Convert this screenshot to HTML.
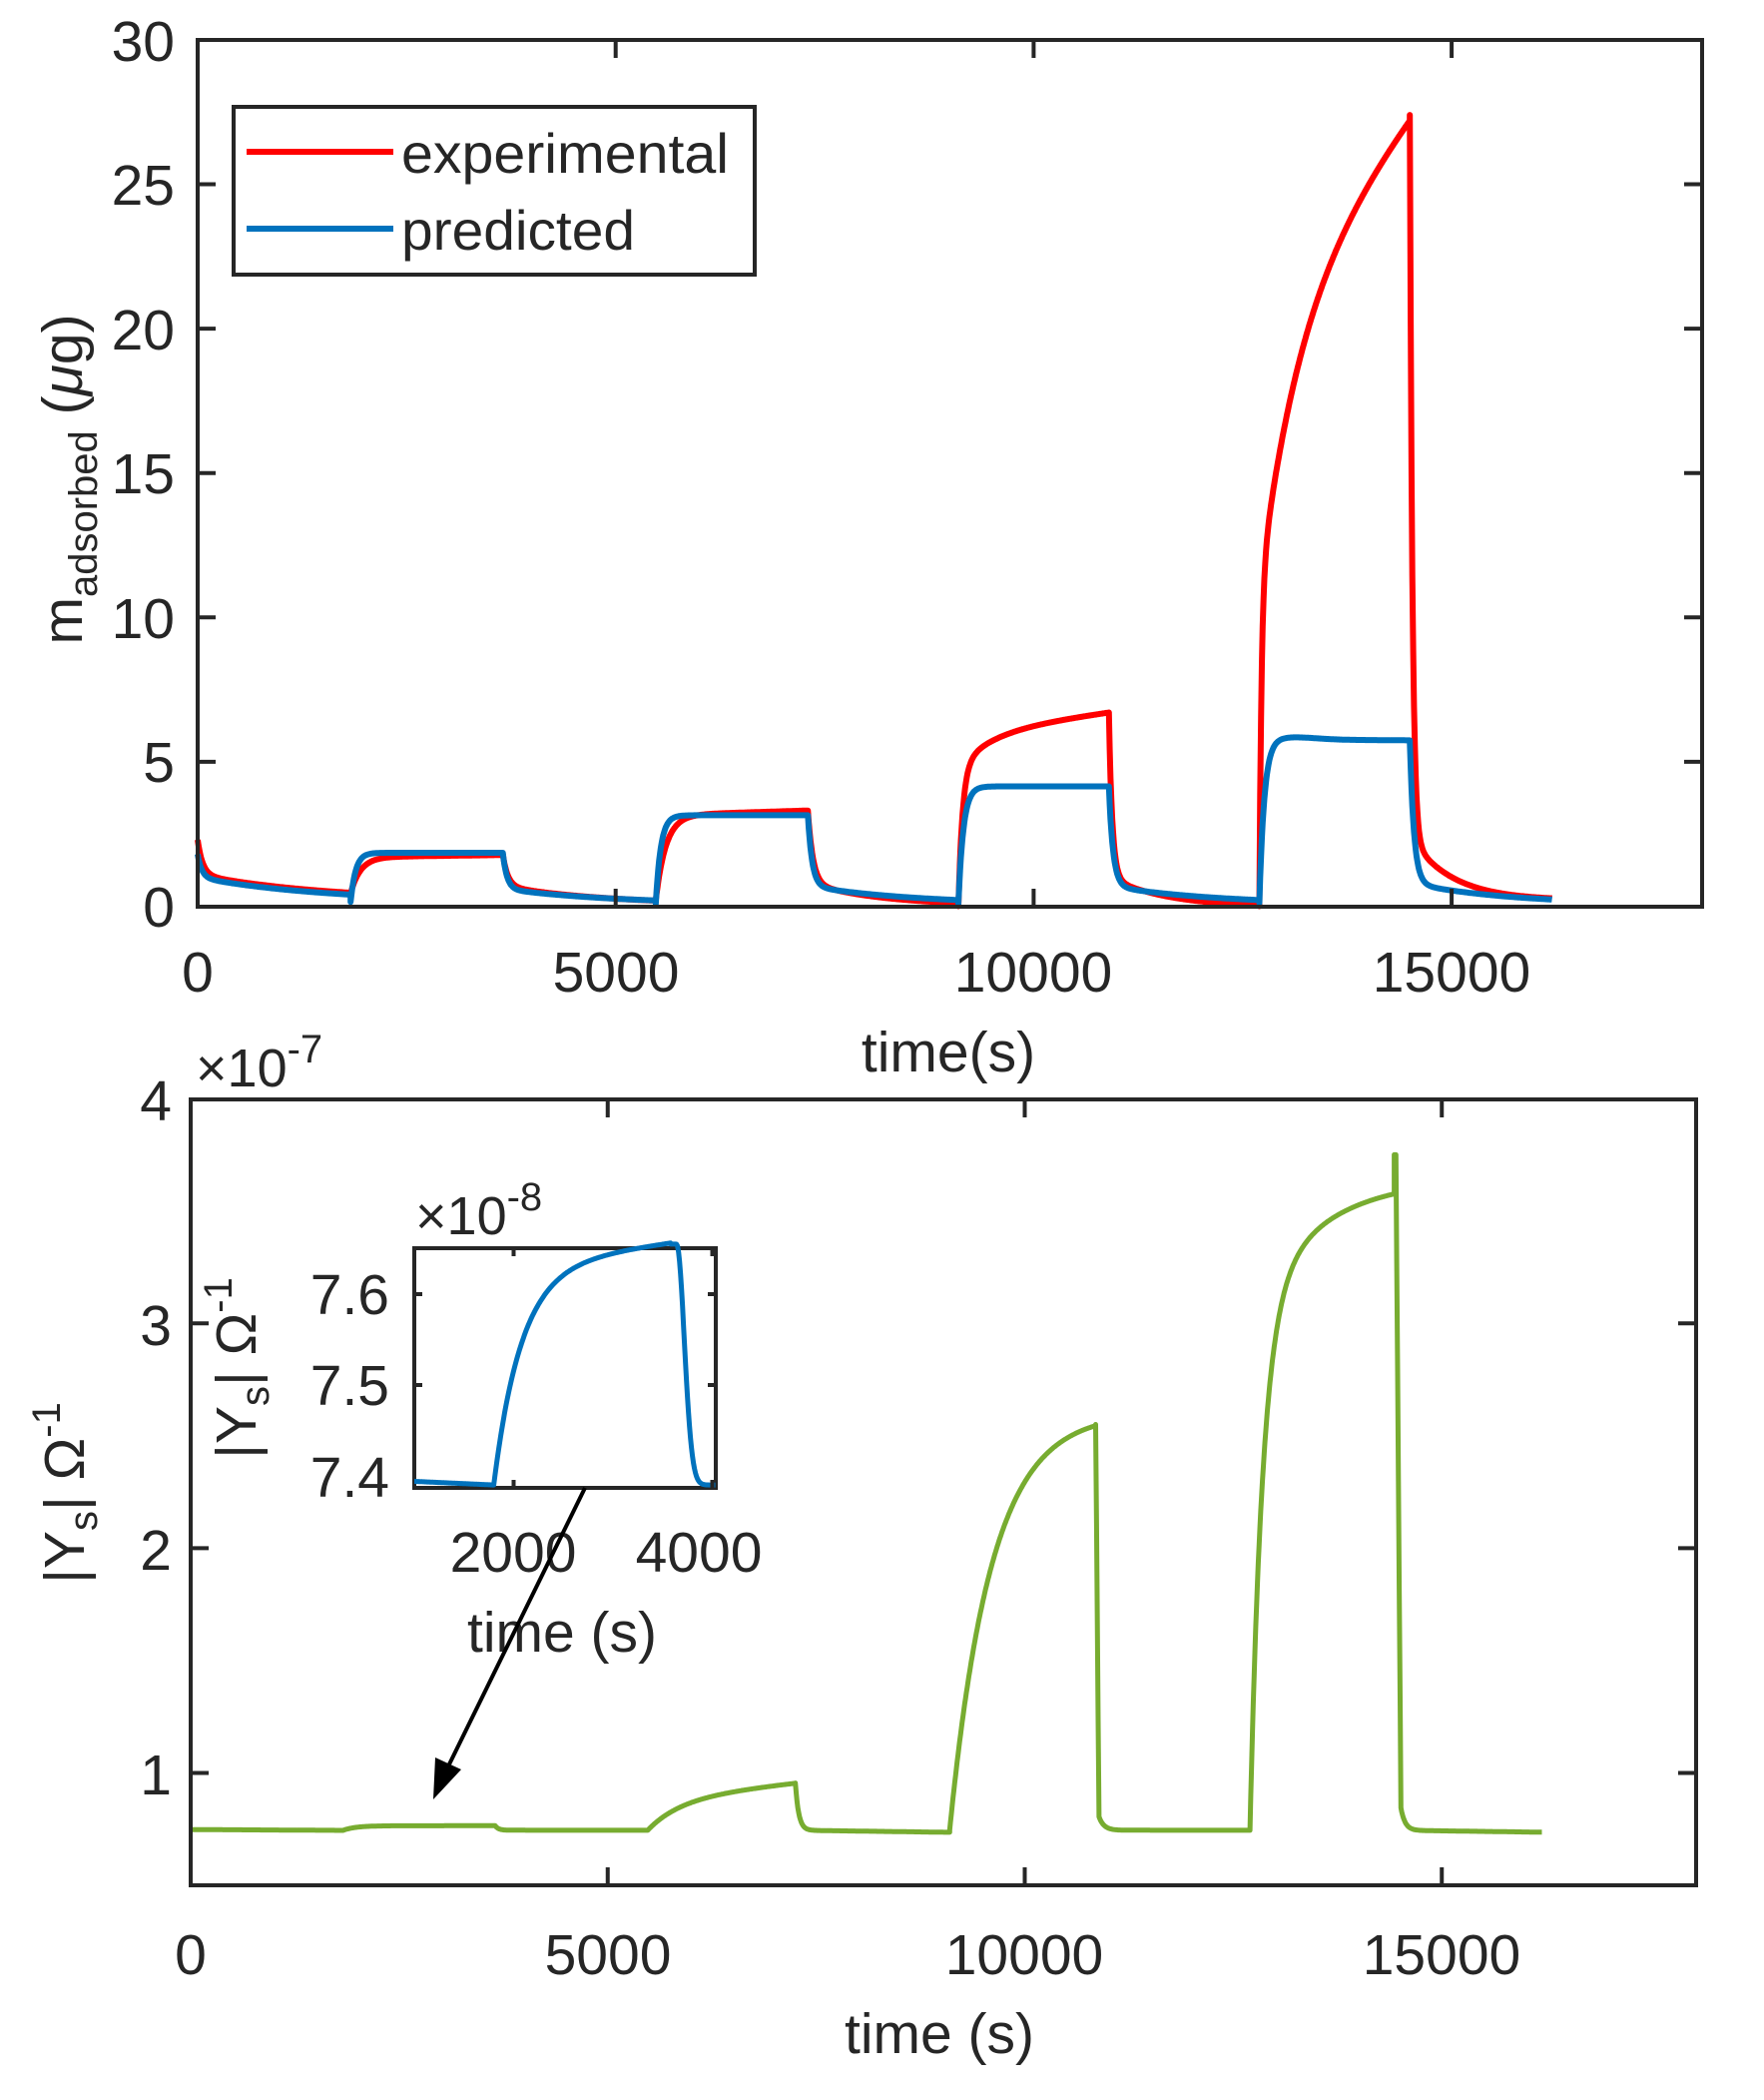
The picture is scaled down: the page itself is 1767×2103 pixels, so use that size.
<!DOCTYPE html>
<html><head><meta charset="utf-8"><style>
html,body{margin:0;padding:0;background:#fff}
svg{display:block}
text{font-family:"Liberation Sans",Arial,sans-serif;fill:#262626}
</style></head><body>
<svg id="s" width="1767" height="2103" viewBox="0 0 1767 2103" xmlns="http://www.w3.org/2000/svg">
<rect width="1767" height="2103" fill="#fff"/>
<g id="plots"></g>
<rect x="198" y="40" width="1507" height="868" fill="none" stroke="#262626" stroke-width="4"/>
<g stroke="#262626" stroke-width="4" id="ticks"></g>
<g font-size="57" text-anchor="end">
<text x="175" y="928">0</text><text x="175" y="783">5</text><text x="175" y="639">10</text>
<text x="175" y="494">15</text><text x="175" y="350">20</text><text x="175" y="205">25</text><text x="175" y="61">30</text>
</g>
<g font-size="57" text-anchor="middle">
<text x="198" y="993">0</text><text x="617" y="993">5000</text><text x="1035" y="993">10000</text><text x="1454" y="993">15000</text>
<text x="950" y="1073">time(s)</text>
</g>
<text transform="translate(82,480) rotate(-90)" font-size="57" text-anchor="middle">m<tspan font-size="40" dy="15">adsorbed</tspan><tspan dy="-15"> (</tspan><tspan font-style="italic">μ</tspan>g)</text>
<rect x="234" y="107" width="522" height="168" fill="#fff" stroke="#262626" stroke-width="4"/>
<line x1="247" y1="152" x2="394" y2="152" stroke="#ff0000" stroke-width="6"/>
<line x1="247" y1="229" x2="394" y2="229" stroke="#0072bd" stroke-width="6"/>
<text x="402" y="173" font-size="56" fill="#000" textLength="328" lengthAdjust="spacingAndGlyphs">experimental</text>
<text x="402" y="250" font-size="56" fill="#000" textLength="234" lengthAdjust="spacingAndGlyphs">predicted</text>
<rect x="191" y="1101" width="1508" height="787" fill="none" stroke="#262626" stroke-width="4"/>
<g font-size="57" text-anchor="end">
<text x="172" y="1122">4</text><text x="172" y="1347">3</text><text x="172" y="1572">2</text><text x="172" y="1797">1</text>
</g>
<text x="196" y="1088" font-size="54">×10<tspan font-size="40" dy="-24">-7</tspan></text>
<g font-size="57" text-anchor="middle">
<text x="191" y="1977">0</text><text x="609" y="1977">5000</text><text x="1026" y="1977">10000</text><text x="1444" y="1977">15000</text>
<text x="941" y="2056">time (s)</text>
</g>
<text transform="translate(84,1495) rotate(-90)" font-size="57" text-anchor="middle">|Y<tspan font-size="40" dy="13">s</tspan><tspan dy="-13">| Ω</tspan><tspan font-size="40" dy="-24">-1</tspan></text>
<rect x="415" y="1250" width="302" height="240" fill="#fff" stroke="#262626" stroke-width="4"/>
<g id="inset"></g>
<g font-size="57" text-anchor="end">
<text x="390" y="1316">7.6</text><text x="390" y="1407">7.5</text><text x="390" y="1499">7.4</text>
</g>
<g font-size="57" text-anchor="middle">
<text x="514" y="1574">2000</text><text x="700" y="1574">4000</text>
<text x="563" y="1654">time (s)</text>
</g>
<text x="416" y="1236" font-size="54">×10<tspan font-size="40" dy="-24">-8</tspan></text>
<text transform="translate(256,1370) rotate(-90)" font-size="57" text-anchor="middle">|Y<tspan font-size="40" dy="13">s</tspan><tspan dy="-13">| Ω</tspan><tspan font-size="40" dy="-24">-1</tspan></text>
<line x1="586" y1="1490" x2="446" y2="1775" stroke="#000" stroke-width="4"/>
<polygon points="434,1802 436,1760 462,1772" fill="#000"/>
</svg>
<script>
(function(){
var NS="http://www.w3.org/2000/svg";
function el(p,n,a){var e=document.createElementNS(NS,n);for(var k in a)e.setAttribute(k,a[k]);p.appendChild(e);return e;}
var plots=document.getElementById('plots'),ticks=document.getElementById('ticks');
[0,5000,10000,15000].forEach(function(t){var x=198+t*0.08374;el(ticks,'line',{x1:x,y1:908,x2:x,y2:890});el(ticks,'line',{x1:x,y1:40,x2:x,y2:58});});
[5,10,15,20,25].forEach(function(v){var y=907.5-v*28.92;el(ticks,'line',{x1:198,y1:y,x2:216,y2:y});el(ticks,'line',{x1:1705,y1:y,x2:1687,y2:y});});
[0,5000,10000,15000].forEach(function(t){var x=191+t*0.08355;el(ticks,'line',{x1:x,y1:1888,x2:x,y2:1870});el(ticks,'line',{x1:x,y1:1101,x2:x,y2:1119});});
[1,2,3].forEach(function(v){var y=1888-(v-0.5)*225.1;el(ticks,'line',{x1:191,y1:y,x2:209,y2:y});el(ticks,'line',{x1:1699,y1:y,x2:1681,y2:y});});
function series(segs,fx,fy){var d='';var first=true;
 segs.forEach(function(s){var t0=s[0],t1=s[1];
  for(var t=t0;t<=t1;t+=10){var u=t-t0;var v=s[2](u);
   d+=(first?'M':'L')+fx(t).toFixed(1)+','+fy(v).toFixed(1);first=false;}
 });return d;}
function rise(a,b,tau){return function(u){return a+(b-a)*(1-Math.exp(-u/tau));};}
function decay(a,b,tau){return function(u){return b+(a-b)*Math.exp(-u/tau);};}
function lin(f,slope){return function(u){return f(u)+slope*u;};}
function fxT(t){return 198+t*0.08374;} function fyT(v){return 907.5-v*28.92;}
function twoDecay(a,m,b,t1,t2){return function(u){return b+(m-b)*Math.exp(-u/t2)+(a-m)*Math.exp(-u/t1);};}
var red=[
 [0,1830,twoDecay(2.3,1.1,0.2,60,1500)],
 [1830,3650,lin(rise(0.45,1.7,120),0.00004)],
 [3650,5480,twoDecay(1.8,0.7,0.05,60,1200)],
 [5480,7300,lin(rise(0.2,3.15,120),0.00009)],
 [7300,9100,twoDecay(3.3,0.8,0.0,60,900)],
 [9100,10900,function(u){return 4.8*(1-Math.exp(-u/50))+1.2*(1-Math.exp(-u/400))+0.0004*u;}],
 [10900,12700,twoDecay(6.7,1.0,-0.05,40,700)],
 [12700,14500,function(u){return 11*(1-Math.exp(-u/25))+10*(1-Math.exp(-u/500))+0.0036*u;}],
 [14500,16200,twoDecay(27.4,2.4,0.2,30,500)]
];
var blue=[
 [0,1830,twoDecay(1.8,1.0,0.15,50,1500)],
 [1830,3650,rise(0.15,1.85,60)],
 [3650,5480,twoDecay(1.85,0.6,0.05,50,1400)],
 [5480,7300,rise(0.08,3.15,60)],
 [7300,9100,twoDecay(3.15,0.7,0.05,50,1300)],
 [9100,10900,rise(0.08,4.15,60)],
 [10900,12700,twoDecay(4.15,0.7,0.05,50,1300)],
 [12700,14500,function(u){return 0.08+5.7*(1-Math.exp(-u/60))+0.08*Math.exp(-Math.pow((u-400)/400,2))-0.00002*u;}],
 [14500,16200,twoDecay(5.7,0.8,0.05,50,1200)]
];
el(plots,'path',{d:series(red,fxT,fyT),fill:'none',stroke:'#ff0000','stroke-width':6,'stroke-linejoin':'round'});
el(plots,'path',{d:series(blue,fxT,fyT),fill:'none',stroke:'#0072bd','stroke-width':6,'stroke-linejoin':'round'});
function fxB(t){return 191+t*0.08355;} function fyB(v){return 1888-(v-0.5)*225.1;}
var B=0.745;
var green=[
 [0,1830,function(u){return 0.748-0.000002*u;}],
 [1830,3650,rise(B,0.765,150)],
 [3650,5480,decay(0.765,B,40)],
 [5480,7250,function(u){return B+0.14*(1-Math.exp(-u/400))+0.00004*u;}],
 [7250,9100,function(u){return 0.745+0.21*Math.exp(-u/40)-0.000005*u;}],
 [9100,10850,function(u){return B+1.8*(1-Math.exp(-u/500))/(1-Math.exp(-3.5));}],
 [10850,12700,function(u){return (u<40?2.55-1.75*u/40:B+0.06*Math.exp(-(u-40)/60));}],
 [12700,14430,function(u){return B+2.3*(1-Math.exp(-u/150))+0.6*(1-Math.exp(-u/800));}],
 [14430,14450,function(u){return 3.75;}],
 [14450,16200,function(u){return (u<60?3.75-2.9*u/60:B+0.1*Math.exp(-(u-60)/50)-0.000005*u);}]
];
el(plots,'path',{d:series(green,fxB,fyB),fill:'none',stroke:'#77ac30','stroke-width':5,'stroke-linejoin':'round'});
var ins=document.getElementById('inset');
function fxI(t){return 415+(t-1000)*0.0995;} function fyI(v){return 1296-(v-7.6)*910;}
var inset=[
 [1000,1800,function(u){return 7.394-0.000005*u;}],
 [1800,3580,function(u){return 7.39+0.24*(1-Math.exp(-u/280))+0.000015*u;}],
 [3580,4030,function(u){return u<60?7.655:(7.39+0.265*Math.exp(-Math.pow((u-60)/110,2)));}]
];
el(ins,'path',{d:series(inset,fxI,fyI),fill:'none',stroke:'#0072bd','stroke-width':5,'stroke-linejoin':'round'});
[2000,4000].forEach(function(t){var x=fxI(t);el(ins,'line',{x1:x,y1:1490,x2:x,y2:1482,stroke:'#262626','stroke-width':4});el(ins,'line',{x1:x,y1:1250,x2:x,y2:1258,stroke:'#262626','stroke-width':4});});
[7.5,7.6].forEach(function(v){var y=fyI(v);el(ins,'line',{x1:415,y1:y,x2:423,y2:y,stroke:'#262626','stroke-width':4});el(ins,'line',{x1:717,y1:y,x2:709,y2:y,stroke:'#262626','stroke-width':4});});
})();
</script>
</body></html>
